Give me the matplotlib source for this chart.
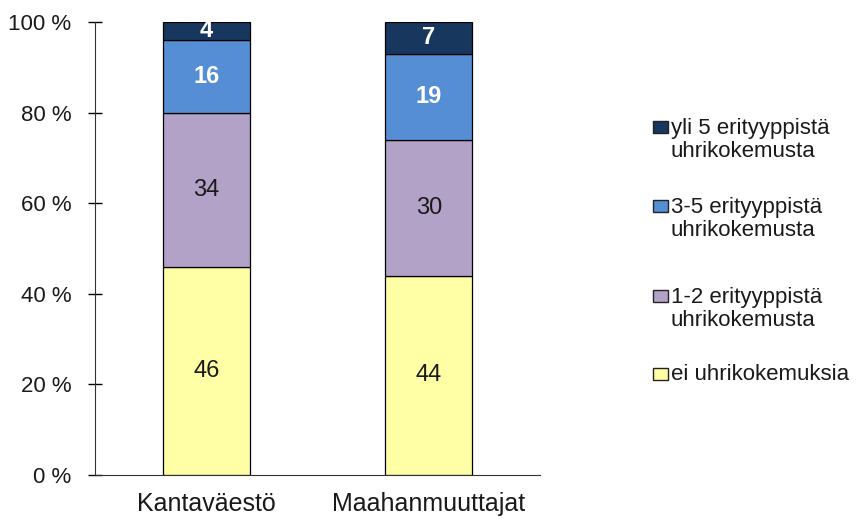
import matplotlib.pyplot as plt
from matplotlib.patches import Rectangle
import numpy as np

plt.rcParams['font.family'] = ['Liberation Sans', 'DejaVu Sans']

ryhmat = ["Kantaväestö", "Maahanmuuttajat"]
luokat = ["ei uhrikokemuksia",
          "1-2 erityyppistä\nuhrikokemusta",
          "3-5 erityyppistä\nuhrikokemusta",
          "yli 5 erityyppistä\nuhrikokemusta"]
osuudet = {
    "ei uhrikokemuksia": [46, 44],
    "1-2 erityyppistä\nuhrikokemusta": [34, 30],
    "3-5 erityyppistä\nuhrikokemusta": [16, 19],
    "yli 5 erityyppistä\nuhrikokemusta": [4, 7],
}
varit = ["#FFFFA6", "#B3A2C7", "#558ED5", "#17375E"]
tekstivarit = ["#1a1a1a", "#1a1a1a", "white", "white"]
lihavointi = ["normal", "normal", "bold", "bold"]

W, H = 856, 522
fig = plt.figure(figsize=(W / 100, H / 100), dpi=100)
ax = fig.add_axes([0.111, 0.090, 0.520, 0.868])

x = np.arange(len(ryhmat))
pohja = np.zeros(len(ryhmat))
for luokka, vari, tv, fw in zip(luokat, varit, tekstivarit, lihavointi):
    arvot = np.array(osuudet[luokka])
    ax.bar(x, arvot, 0.39, bottom=pohja, color=vari, edgecolor="black",
           linewidth=0.9, label=luokka)
    for xi, v, p in zip(x, arvot, pohja):
        ax.text(xi, p + v / 2, str(v), ha="center", va="center",
                fontsize=17, color=tv, fontweight=fw)
    pohja = pohja + arvot

ax.set_xlim(-0.5, 1.5)
ax.set_ylim(0, 100)
ax.set_yticks(range(0, 101, 20))
ax.set_yticklabels([f"{t} %" for t in range(0, 101, 20)], fontsize=16)
ax.set_xticks(x)
ax.set_xticklabels(ryhmat, fontsize=18)
ax.tick_params(axis="y", direction="inout", length=10, width=1, pad=12)
ax.tick_params(axis="x", length=0, pad=12)
for t in ax.get_yticklabels() + ax.get_xticklabels():
    t.set_color("#1a1a1a")
ax.spines["top"].set_visible(False)
ax.spines["right"].set_visible(False)
ax.spines["left"].set_color("#333333")
ax.spines["bottom"].set_color("#333333")

# selite käsin: ruutu ensimmäisen rivin kohdalle, ylin luokka ylimpänä
ruudut_y = [133, 212, 302, 380]
for luokka, vari, y in zip(luokat[::-1], varit[::-1], ruudut_y):
    fig.add_artist(Rectangle((653 / W, 1 - y / H), 15 / W, 12 / H,
                             transform=fig.transFigure, facecolor=vari,
                             edgecolor="#222222", linewidth=1))
    rivit = luokka.count("\n")
    fig.text(671 / W, 1 - (y + 24 * rivit) / H, luokka, ha="left",
             va="baseline", fontsize=16, color="#1a1a1a", linespacing=1.1)

fig.savefig("out.png", dpi=100)
